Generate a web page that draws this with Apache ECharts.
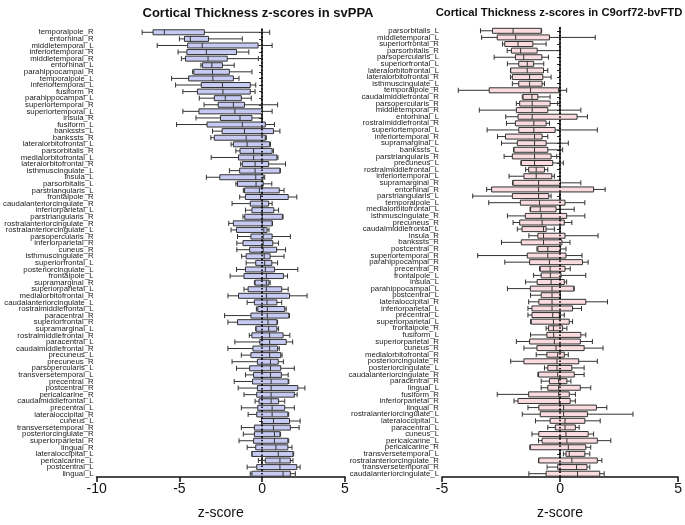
<!DOCTYPE html>
<html>
<head>
<meta charset="utf-8">
<script src="https://cdn.jsdelivr.net/npm/echarts@6/dist/echarts.min.js"></script>
<style>
html,body{margin:0;padding:0;background:#fff;}
#chart{width:685px;height:525px;}
</style>
</head>
<body>
<div id="chart"></div>
<script>
const leftTitle = 'Cortical Thickness z-scores in svPPA';
const rightTitle = 'Cortical Thickness z-scores in C9orf72-bvFTD';
const axisName = 'z-score';

const leftCats = ['temporalpole_R','entorhinal_R','middletemporal_L','inferiortemporal_R','middletemporal_R','entorhinal_L','parahippocampal_R','temporalpole_L','inferiortemporal_L','fusiform_R','parahippocampal_L','superiortemporal_R','superiortemporal_L','insula_R','fusiform_L','bankssts_L','bankssts_R','lateralorbitofrontal_L','parsorbitalis_R','medialorbitofrontal_L','lateralorbitofrontal_R','isthmuscingulate_L','insula_L','parsorbitalis_L','parstriangularis_L','frontalpole_R','caudalanteriorcingulate_R','inferiorparietal_L','parstriangularis_R','rostralanteriorcingulate_R','rostralanteriorcingulate_L','parsopercularis_R','inferiorparietal_R','cuneus_R','isthmuscingulate_R','superiorfrontal_L','posteriorcingulate_L','frontalpole_L','supramarginal_R','superiorparietal_L','medialorbitofrontal_R','caudalanteriorcingulate_L','rostralmiddlefrontal_L','paracentral_R','superiorfrontal_R','supramarginal_L','rostralmiddlefrontal_R','paracentral_L','caudalmiddlefrontal_R','precuneus_L','precuneus_R','parsopercularis_L','transversetemporal_L','precentral_R','postcentral_R','pericalcarine_R','caudalmiddlefrontal_L','precentral_L','lateraloccipital_R','cuneus_L','transversetemporal_R','posteriorcingulate_R','superiorparietal_R','lingual_R','lateraloccipital_L','pericalcarine_L','postcentral_L','lingual_L'];

// [min, Q1, median, Q3, max]
const leftBoxes = [
[-7.25,-6.59,-5.91,-3.49,0.45],
[-5.0,-4.69,-4.34,-3.24,-1.2],
[-6.34,-4.5,-3.62,-0.25,0.6],
[-5.08,-4.55,-3.37,-1.55,-0.81],
[-4.88,-4.63,-3.27,-2.11,-0.23],
[-3.7,-3.6,-3.04,-2.4,-1.69],
[-4.2,-4.13,-3.0,-1.98,-0.62],
[-5.47,-4.44,-2.98,-1.74,-1.4],
[-5.23,-3.68,-2.4,-0.72,-0.39],
[-4.79,-3.91,-2.37,-0.72,-0.43],
[-3.8,-2.89,-2.23,-1.26,-0.66],
[-3.51,-2.66,-1.74,-1.07,0.93],
[-4.79,-3.82,-1.65,0.0,0.6],
[-4.0,-2.52,-1.34,-0.62,0.0],
[-5.17,-3.33,-1.2,0.19,0.74],
[-3.0,-2.42,-1.07,0.68,1.07],
[-3.1,-2.89,-0.97,0.19,0.25],
[-1.88,-1.74,-0.91,0.45,0.5],
[-1.59,-1.34,-0.52,0.6,0.68],
[-3.08,-1.43,-0.52,0.89,0.95],
[-1.3,-1.2,-0.43,0.39,1.41],
[-1.98,-1.36,-0.43,1.07,1.1],
[-3.37,-2.56,-0.39,0.06,0.15],
[-1.59,-1.49,-0.37,0.06,0.58],
[-1.14,-1.07,-0.17,1.03,1.32],
[-1.36,-1.01,-0.1,1.57,2.09],
[-1.82,-0.72,0.0,0.39,0.6],
[-1.01,-0.62,0.0,0.7,0.99],
[-1.16,-1.05,0.0,1.22,1.26],
[-2.02,-1.74,0.0,0.6,0.62],
[-1.88,-1.55,0.1,0.29,0.41],
[-1.49,-0.68,0.06,0.6,1.7],
[-1.53,-1.16,0.06,0.64,0.99],
[-1.53,-0.76,0.06,0.87,1.41],
[-1.24,-0.97,0.12,0.48,1.32],
[-0.97,-0.39,0.15,0.58,0.93],
[-1.55,-1.01,0.19,0.74,2.15],
[-1.94,-1.1,0.25,1.28,1.53],
[-0.47,-0.43,0.25,0.41,0.48],
[-1.1,-0.85,0.25,1.18,1.57],
[-2.07,-1.43,0.25,1.65,2.71],
[-0.91,-0.47,0.29,0.89,1.18],
[-0.35,-0.27,0.31,1.36,1.45],
[-2.27,-0.68,0.31,1.61,1.65],
[-2.07,-1.49,0.35,0.89,0.93],
[-0.39,-0.37,0.39,0.89,0.99],
[-0.78,-0.62,0.45,1.26,1.67],
[-1.65,-0.14,0.45,1.45,1.84],
[-2.07,-0.56,0.45,0.93,1.03],
[-1.26,-0.68,0.45,1.12,1.2],
[-1.82,-0.29,0.5,0.97,1.28],
[-1.55,-0.76,0.5,1.12,1.94],
[-1.01,-0.52,0.5,1.16,1.57],
[-1.69,-0.58,0.54,1.57,1.61],
[-1.45,-0.29,0.54,2.15,2.58],
[-1.1,-0.33,0.54,1.94,2.11],
[-0.43,-0.19,0.54,0.99,1.36],
[-1.26,-0.27,0.6,1.36,1.94],
[-0.85,-0.33,0.6,1.55,1.6],
[-0.04,-0.04,0.68,1.65,2.29],
[-1.26,-0.47,0.68,1.7,2.23],
[-1.14,-0.47,0.74,1.07,1.11],
[-1.4,-0.52,0.74,1.55,1.6],
[-0.91,-0.39,0.83,1.55,1.8],
[-0.62,-0.62,0.97,1.86,1.9],
[-0.23,0.19,1.07,1.7,1.86],
[-0.91,-0.33,1.07,2.09,2.29],
[-0.72,-0.62,1.26,1.7,2.0]
];

const rightCats = ['parsorbitalis_L','middletemporal_L','superiorfrontal_R','parsorbitalis_R','parsopercularis_L','superiorfrontal_L','lateralorbitofrontal_L','lateralorbitofrontal_R','isthmuscingulate_L','temporalpole_R','caudalmiddlefrontal_R','parsopercularis_R','middletemporal_R','entorhinal_L','rostralmiddlefrontal_R','superiortemporal_L','inferiortemporal_R','supramarginal_L','bankssts_L','parstriangularis_R','precuneus_L','rostralmiddlefrontal_L','inferiortemporal_L','supramarginal_R','entorhinal_R','parstriangularis_L','temporalpole_L','medialorbitofrontal_L','isthmuscingulate_R','precuneus_R','caudalmiddlefrontal_L','insula_R','bankssts_R','postcentral_R','superiortemporal_R','parahippocampal_R','precentral_R','frontalpole_L','insula_L','parahippocampal_L','postcentral_L','lateraloccipital_R','inferiorparietal_L','precentral_L','superiorparietal_L','frontalpole_R','fusiform_L','superiorparietal_R','cuneus_R','medialorbitofrontal_R','posteriorcingulate_R','posteriorcingulate_L','caudalanteriorcingulate_R','paracentral_R','lingual_L','fusiform_R','inferiorparietal_R','lingual_R','rostralanteriorcingulate_L','lateraloccipital_L','paracentral_L','cuneus_L','pericalcarine_L','pericalcarine_R','transversetemporal_L','rostralanteriorcingulate_R','transversetemporal_R','caudalanteriorcingulate_L'];

const rightBoxes = [
[-3.37,-2.86,-1.99,-0.8,-0.78],
[-3.32,-2.66,-1.88,-0.45,1.49],
[-2.44,-2.34,-1.78,-1.15,-0.59],
[-2.24,-2.06,-1.67,-0.97,0.0],
[-2.79,-1.89,-1.54,-0.77,-0.49],
[-2.23,-1.75,-1.39,-1.12,-0.69],
[-2.1,-2.09,-1.39,-0.7,-0.52],
[-2.1,-2.02,-1.29,-0.73,-0.38],
[-2.02,-1.75,-1.29,-0.76,-0.66],
[-4.31,-3.0,-1.25,-0.06,0.28],
[-1.6,-1.57,-1.19,-0.94,-0.42],
[-1.85,-1.71,-1.18,-0.42,-0.1],
[-3.42,-1.85,-1.18,-0.52,0.88],
[-2.3,-1.78,-1.18,0.72,1.16],
[-2.27,-1.89,-1.11,-0.59,-0.45],
[-3.09,-1.75,-1.11,-0.21,1.58],
[-2.65,-2.31,-1.08,-0.76,-0.52],
[-2.48,-1.81,-1.08,-0.59,0.35],
[-1.97,-1.95,-1.08,-0.52,0.11],
[-2.37,-2.02,-1.08,-0.38,-0.14],
[-1.66,-1.64,-1.08,-0.31,0.14],
[-1.46,-1.33,-1.01,-0.66,-0.52],
[-2.16,-1.53,-1.01,-0.35,-0.24],
[-2.01,-1.99,-0.91,0.01,0.88],
[-3.11,-2.9,-0.91,1.42,1.91],
[-3.7,-2.02,-0.91,-0.48,-0.38],
[-3.02,-1.68,-0.87,0.21,1.05],
[-1.27,-1.25,-0.84,-0.17,0.6],
[-2.23,-1.47,-0.8,0.28,1.05],
[-1.99,-1.71,-0.76,0.18,0.5],
[-1.81,-1.61,-0.7,-0.59,-0.24],
[-1.32,-0.94,-0.7,0.21,1.61],
[-2.48,-1.64,-0.7,0.08,0.42],
[-0.98,-0.94,-0.52,0.01,0.25],
[-3.49,-1.39,-0.52,0.25,0.93],
[-2.34,-1.29,-0.45,0.95,1.19],
[-0.87,-0.84,-0.42,0.21,0.43],
[-1.12,-0.8,-0.41,0.04,1.09],
[-1.46,-0.97,-0.38,0.18,0.28],
[-2.23,-1.26,-0.34,0.58,0.6],
[-1.25,-0.8,-0.34,0.0,0.02],
[-1.33,-0.9,-0.34,1.09,2.01],
[-1.36,-1.19,-0.34,0.53,0.91],
[-1.36,-1.19,-0.31,-0.03,0.18],
[-1.25,-1.22,-0.28,0.39,0.53],
[-0.59,-0.49,-0.28,0.11,0.29],
[-1.25,-0.56,-0.27,0.88,1.09],
[-1.85,-1.29,-0.24,0.86,1.37],
[-1.53,-0.98,-0.17,1.02,1.82],
[-1.01,-0.56,-0.1,0.18,0.35],
[-2.09,-1.53,-0.13,0.79,1.58],
[-0.66,-0.52,-0.13,0.5,1.02],
[-0.94,-0.91,-0.1,0.6,1.02],
[-0.8,-0.45,-0.06,0.29,0.46],
[-0.8,-0.52,-0.06,0.86,1.3],
[-2.66,-1.33,-0.06,0.39,0.65],
[-1.95,-1.78,-0.03,0.43,0.65],
[-1.36,-0.9,0.15,1.54,1.98],
[-1.6,-0.84,0.15,1.16,3.09],
[-1.04,-0.42,0.21,1.05,1.7],
[-0.52,-0.2,0.21,0.65,0.81],
[-1.19,-0.9,0.25,1.19,1.42],
[-0.91,-0.76,0.29,1.58,2.15],
[-1.28,-1.26,0.35,1.09,1.3],
[0.14,0.25,0.39,1.05,1.26],
[-0.91,-0.9,0.5,1.58,1.77],
[-0.55,-0.1,0.7,1.14,1.26],
[-1.32,-0.59,0.74,1.68,1.87]
];

const leftTicks = {min: -10, max: 5, interval: 5};
const rightTicks = {min: -5, max: 5, interval: 5};

const FONT = "'Liberation Sans', Arial, sans-serif";

function xAxisCfg(gridIndex, t) {
  return {
    type: 'value', gridIndex: gridIndex,
    min: t.min, max: t.max, interval: t.interval,
    name: axisName, nameLocation: 'middle', nameGap: 29,
    nameTextStyle: {fontFamily: FONT, fontSize: 14, color: '#111'},
    axisLine: {show: true, onZero: false, lineStyle: {color: '#111', width: 1.5}},
    axisTick: {show: true, length: 5, lineStyle: {color: '#111', width: 1.5}},
    axisLabel: {fontFamily: FONT, fontSize: 14, color: '#111', margin: 5},
    splitLine: {show: false}
  };
}
function yAxisCfg(gridIndex, cats) {
  return {
    type: 'category', gridIndex: gridIndex, data: cats, inverse: true,
    axisLine: {show: true, lineStyle: {color: '#111', width: 1.5}},
    axisTick: {show: true, alignWithLabel: true, length: 3, lineStyle: {color: '#222', width: 1}},
    axisLabel: {fontFamily: FONT, fontSize: 7.8, color: '#222', margin: 3, interval: 0},
    splitLine: {show: false}
  };
}
function zeroLine() {
  return {
    silent: true, symbol: 'none', animation: false,
    label: {show: false},
    lineStyle: {type: [1.5, 2.2], color: '#000', width: 1.6},
    data: [{xAxis: 0}]
  };
}

const chart = echarts.init(document.getElementById('chart'), null, {renderer: 'canvas'});
chart.setOption({
  animation: false,
  backgroundColor: '#fff',
  title: [
    {text: leftTitle, left: 253, top: 2, textAlign: 'center',
     textStyle: {fontFamily: FONT, fontSize: 13, fontWeight: 'bold', color: '#111'}},
    {text: rightTitle, left: 554, top: 2.5, textAlign: 'center',
     textStyle: {fontFamily: FONT, fontSize: 11.3, fontWeight: 'bold', color: '#111'}}
  ],
  grid: [
    {left: 86, right: 340, top: 29, bottom: 37.5},
    {left: 442, right: 4, top: 27.5, bottom: 38.5}
  ],
  xAxis: [xAxisCfg(0, leftTicks), xAxisCfg(1, rightTicks)],
  yAxis: [yAxisCfg(0, leftCats), yAxisCfg(1, rightCats)],
  series: [
    {
      type: 'boxplot', xAxisIndex: 0, yAxisIndex: 0,
      data: leftBoxes, boxWidth: [5, 5],
      itemStyle: {color: '#c7cbf3', borderColor: '#333', borderWidth: 1},
      markLine: zeroLine(), z: 2
    },
    {
      type: 'boxplot', xAxisIndex: 1, yAxisIndex: 1,
      data: rightBoxes, boxWidth: [5, 5],
      itemStyle: {color: '#f9dbe0', borderColor: '#333', borderWidth: 1},
      markLine: zeroLine(), z: 2
    }
  ]
});
</script>
</body>
</html>
